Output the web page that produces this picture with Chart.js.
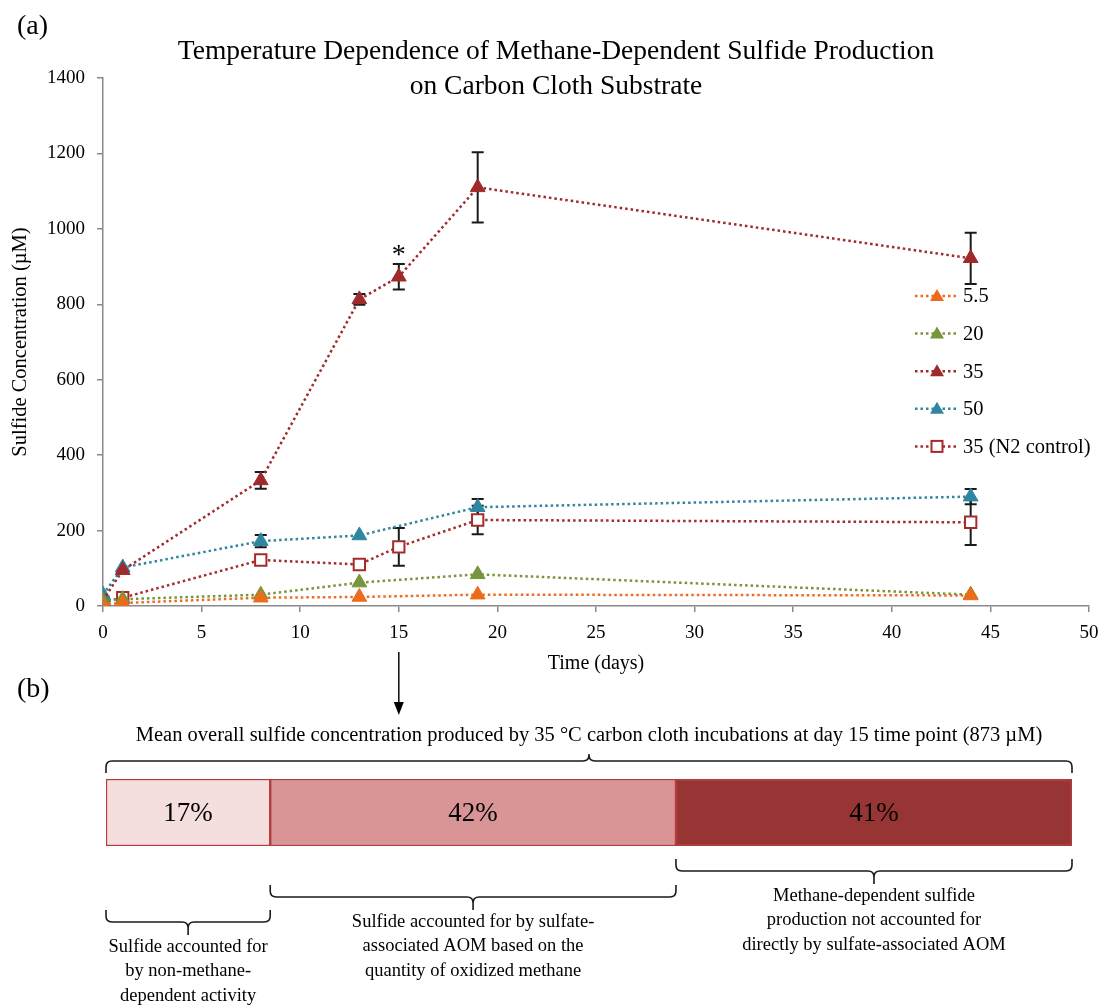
<!DOCTYPE html>
<html lang="en">
<head>
  <meta charset="UTF-8" />
  <title>Temperature Dependence of Methane-Dependent Sulfide Production</title>
  <script src="https://cdn.jsdelivr.net/npm/chart.js"></script>
  <style>
    body { margin: 0; background: #fff; }
    #wrap { position: relative; width: 1099px; height: 1007px; }
    #c1 { position: absolute; left: 0; top: 0; }
    #c2 { position: absolute; left: 0; top: 640px; }
  </style>
</head>
<body>
  <div id="wrap">
    <canvas id="c1" width="1099" height="680"></canvas>
    <canvas id="c2" width="1099" height="367"></canvas>
  </div>

  <script>
    // ---- data (a) ----
    const days = [0, 1, 8, 13, 15, 19, 44];
    const seriesLabels = ['5.5', '20', '35', '50', '35 (N2 control)'];
    const sulfide55 = [3, 8, 22, 24, null, 30, 28];
    const sulfide20 = [14, 18, 30, 62, null, 84, 30];
    const sulfide35 = [15, 95, 333, 813, 873, 1110, 922];
    const sulfide50 = [30, 102, 172, 187, null, 262, 290];
    const sulfideN2 = [10, 22, 122, 110, 157, 228, 222];
    const err55 = [0, 0, 0, 0, null, 0, 0];
    const err20 = [0, 0, 0, 0, null, 0, 0];
    const err35 = [0, 0, 22, 14, 34, 93, 68];
    const err50 = [0, 0, 16, 0, null, 22, 20];
    const errN2 = [0, 0, 0, 14, 50, 38, 60];
    const yTicks = [0, 200, 400, 600, 800, 1000, 1200, 1400];
    const xTicks = [0, 5, 10, 15, 20, 25, 30, 35, 40, 45, 50];

    // ---- data (b) ----
    const shareLabels = ['non-methane', 'AOM', 'unaccounted'];
    const shares = [17, 42, 41];
    const markedDay = 15;
    const markedValue = 873;

    const serif = "'Liberation Serif', 'Times New Roman', serif";
    const colors = ['#ec6c1c', '#77953a', '#9e2a2b', '#2f86a0', '#a52a2a'];
    const seriesValues = [sulfide55, sulfide20, sulfide35, sulfide50, sulfideN2];
    const errorSets = [err55, err20, err35, err50, errN2];

    function toPoints(vals) {
      return days.map((d, i) => ({ x: d, y: vals[i] })).filter(p => p.y != null);
    }

    function marker(ctx, kind, color, x, y) {
      ctx.save();
      if (kind === 'rect') {
        ctx.fillStyle = '#fff';
        ctx.strokeStyle = color;
        ctx.lineWidth = 2;
        ctx.fillRect(x - 5.5, y - 5.5, 11, 11);
        ctx.strokeRect(x - 5.5, y - 5.5, 11, 11);
      } else {
        ctx.fillStyle = color;
        ctx.beginPath();
        ctx.moveTo(x, y - 7);
        ctx.lineTo(x + 7, y + 5);
        ctx.lineTo(x - 7, y + 5);
        ctx.closePath();
        ctx.fill();
      }
      ctx.restore();
    }

    const datasets = seriesValues.map((vals, i) => ({
      label: seriesLabels[i],
      data: toPoints(vals),
      borderColor: colors[i],
      backgroundColor: i === 4 ? '#fff' : colors[i],
      pointBorderColor: colors[i],
      pointBorderWidth: i === 4 ? 2 : 1,
      borderWidth: 2.5,
      borderDash: [2.5, 3],
      pointStyle: i === 4 ? 'rect' : 'triangle',
      pointRadius: i === 4 ? 8 : 8.5,
      spanGaps: true,
      tension: 0
    }));

    const panelA = {
      id: 'panelA',
      beforeDatasetsDraw(chart) {
        const { ctx, scales: { x, y } } = chart;
        ctx.save();
        ctx.strokeStyle = '#1a1a1a';
        ctx.lineWidth = 2;
        errorSets.forEach((errs, i) => {
          errs.forEach((e, j) => {
            const v = seriesValues[i][j];
            if (!e || v == null) return;
            const px = x.getPixelForValue(days[j]);
            const yt = y.getPixelForValue(v + e);
            const yb = y.getPixelForValue(v - e);
            ctx.beginPath();
            ctx.moveTo(px, yt); ctx.lineTo(px, yb);
            ctx.moveTo(px - 6, yt); ctx.lineTo(px + 6, yt);
            ctx.moveTo(px - 6, yb); ctx.lineTo(px + 6, yb);
            ctx.stroke();
          });
        });
        ctx.restore();
      },
      afterDraw(chart) {
        const { ctx, scales: { x, y } } = chart;
        ctx.save();
        ctx.fillStyle = '#000';
        ctx.textBaseline = 'middle';

        ctx.font = '28px ' + serif;
        ctx.textAlign = 'left';
        ctx.fillText('(a)', 17, 27);

        ctx.font = '27.5px ' + serif;
        ctx.textAlign = 'center';
        ctx.fillText('Temperature Dependence of Methane-Dependent Sulfide Production', 556, 52);
        ctx.fillText('on Carbon Cloth Substrate', 556, 87);

        // significance star over day 15
        const j = days.indexOf(markedDay);
        ctx.font = '28px ' + serif;
        ctx.fillText('*', x.getPixelForValue(markedDay), y.getPixelForValue(sulfide35[j] + err35[j]) - 8);

        // legend
        ctx.font = '20.5px ' + serif;
        ctx.textAlign = 'left';
        chart.data.datasets.forEach((ds, i) => {
          const ly = 296 + i * 37.6;
          ctx.save();
          ctx.strokeStyle = ds.borderColor;
          ctx.lineWidth = 2.5;
          ctx.setLineDash([2.5, 3]);
          ctx.beginPath();
          ctx.moveTo(915, ly); ctx.lineTo(959, ly);
          ctx.stroke();
          ctx.restore();
          marker(ctx, ds.pointStyle, ds.borderColor, 937, ly);
          ctx.fillText(ds.label, 963, ly + 1);
        });
        ctx.restore();
      }
    };

    const chartA = new Chart(document.getElementById('c1'), {
      type: 'line',
      data: { datasets: datasets },
      options: {
        responsive: false,
        animation: false,
        layout: { padding: { top: 78, right: 7, left: 0, bottom: 0 } },
        plugins: { legend: { display: false }, tooltip: { enabled: false } },
        scales: {
          x: {
            type: 'linear', min: 0, max: 50,
            afterBuildTicks(s) { s.ticks = xTicks.map(v => ({ value: v })); },
            afterFit(s) { s.height = 74; s.paddingLeft = 0; s.paddingRight = 0; },
            ticks: { color: '#000', font: { family: serif, size: 19 }, maxRotation: 0, padding: 10, callback: v => String(v) },
            grid: { drawOnChartArea: false, color: '#8a8a8a', tickLength: 6, lineWidth: 1.5 },
            border: { color: '#8a8a8a', width: 1.5 },
            title: { display: true, text: 'Time (days)', color: '#000', font: { family: serif, size: 20 }, padding: { top: 0, bottom: 4 } }
          },
          y: {
            min: 0, max: 1400,
            afterBuildTicks(s) { s.ticks = yTicks.map(v => ({ value: v })); },
            afterFit(s) { s.width = 103; },
            ticks: { color: '#000', font: { family: serif, size: 19 }, padding: 12, callback: v => String(v) },
            grid: { drawOnChartArea: false, color: '#8a8a8a', tickLength: 6, lineWidth: 1.5 },
            border: { color: '#8a8a8a', width: 1.5 },
            title: { display: true, text: 'Sulfide Concentration (\u00b5M)', color: '#000', font: { family: serif, size: 20.5 }, padding: { top: 8, bottom: 0 } }
          }
        }
      },
      plugins: [panelA]
    });

    // ---- panel (b) ----
    const shareColors = ['#f5dede', '#d99595', '#973535'];
    const notes = [
      ['Sulfide accounted for', 'by non-methane-', 'dependent activity'],
      ['Sulfide accounted for by sulfate-', 'associated AOM based on the', 'quantity of oxidized methane'],
      ['Methane-dependent sulfide', 'production not accounted for', 'directly by sulfate-associated AOM']
    ];
    // brace rows under the bar (edge y), one per segment
    const braceEdge = [270, 245, 219];

    function brace(ctx, x1, x2, yEdge, yMid, yTip) {
      const xc = (x1 + x2) / 2;
      const r = 6;
      const s = yMid > yEdge ? 1 : -1;
      ctx.beginPath();
      ctx.moveTo(x1, yEdge);
      ctx.lineTo(x1, yMid - s * r);
      ctx.quadraticCurveTo(x1, yMid, x1 + r, yMid);
      ctx.lineTo(xc - r, yMid);
      ctx.quadraticCurveTo(xc, yMid, xc, yMid + s * r);
      ctx.lineTo(xc, yTip);
      ctx.moveTo(xc, yMid + s * r);
      ctx.quadraticCurveTo(xc, yMid, xc + r, yMid);
      ctx.lineTo(x2 - r, yMid);
      ctx.quadraticCurveTo(x2, yMid, x2, yMid - s * r);
      ctx.lineTo(x2, yEdge);
      ctx.stroke();
    }

    const panelB = {
      id: 'panelB',
      afterDraw(chart) {
        const ctx = chart.ctx;
        const area = chart.chartArea;
        ctx.save();
        ctx.fillStyle = '#000';
        ctx.strokeStyle = '#1a1a1a';
        ctx.lineWidth = 1.6;
        ctx.textBaseline = 'middle';

        ctx.font = '28px ' + serif;
        ctx.textAlign = 'left';
        ctx.fillText('(b)', 17, 50);

        // arrow from day 15 on the time axis
        const ax = chartA.scales.x.getPixelForValue(markedDay);
        ctx.beginPath();
        ctx.moveTo(ax, 12); ctx.lineTo(ax, 64);
        ctx.stroke();
        ctx.beginPath();
        ctx.moveTo(ax - 5, 62); ctx.lineTo(ax + 5, 62); ctx.lineTo(ax, 75);
        ctx.closePath();
        ctx.fill();

        ctx.font = '20.5px ' + serif;
        ctx.textAlign = 'center';
        ctx.fillText('Mean overall sulfide concentration produced by 35 \u00b0C carbon cloth incubations at day 15 time point (' + markedValue + ' \u00b5M)', (area.left + area.right) / 2, 96);
        brace(ctx, area.left, area.right, area.top - 6, area.top - 18, area.top - 25);

        shares.forEach((v, i) => {
          const bar = chart.getDatasetMeta(i).data[0];
          const x1 = Math.min(bar.base, bar.x), x2 = Math.max(bar.base, bar.x);
          const xc = (x1 + x2) / 2;
          ctx.font = '27px ' + serif;
          ctx.fillStyle = '#000';
          ctx.fillText(v + '%', xc, bar.y + 1);
          const e = braceEdge[i];
          brace(ctx, x1, x2, e, e + 12, e + 25);
          ctx.font = '18.5px ' + serif;
          notes[i].forEach((line, k) => ctx.fillText(line, xc, e + 37 + k * 24.5));
        });
        ctx.restore();
      }
    };

    new Chart(document.getElementById('c2'), {
      type: 'bar',
      data: {
        labels: [''],
        datasets: shares.map((v, i) => ({
          label: shareLabels[i],
          data: [v],
          backgroundColor: shareColors[i],
          borderColor: '#b23b3b',
          borderWidth: 1.5,
          borderSkipped: false,
          barPercentage: 1,
          categoryPercentage: 1
        }))
      },
      options: {
        indexAxis: 'y',
        responsive: false,
        animation: false,
        layout: { padding: { top: 139, bottom: 161, left: 106, right: 27 } },
        plugins: { legend: { display: false }, tooltip: { enabled: false } },
        scales: {
          x: { stacked: true, min: 0, max: 100, display: false },
          y: { stacked: true, display: false }
        }
      },
      plugins: [panelB]
    });
  </script>
</body>
</html>
